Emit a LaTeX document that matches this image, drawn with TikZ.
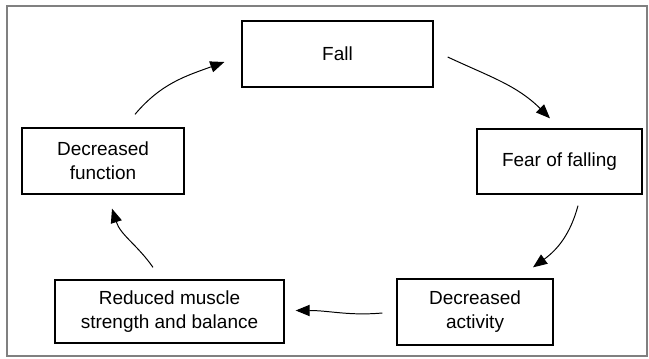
\documentclass[tikz,border=0pt]{standalone}
\usepackage{fontspec}
\setmainfont{Liberation Sans}
\usetikzlibrary{arrows.meta,calc}
\begin{document}
\begin{tikzpicture}[
        x=0.025cm,
        y=-0.025cm,
        box/.style={draw, line width=0.9pt, align=center, inner sep=0pt, font=\fontsize{13.5}{17}\selectfont},
        cyc/.style={line width=0.7pt, -{Triangle[length=10pt,width=8pt]}}
    ]
    \useasboundingbox (0,0) rectangle (649,359);
    \draw[gray, line width=0.8pt] (7,6) rectangle (647,356);

    \node[box, minimum width=4.775cm, minimum height=1.65cm] (fall) at (337.5,54) {Fall};
    \node[box, minimum width=4.125cm, minimum height=1.625cm] (fear) at (559.5,161.5) {Fear of falling};
    \node[box, minimum width=3.9cm, minimum height=1.65cm] (activity) at (475,312) {Decreased\\activity};
    \node[box, minimum width=5.725cm, minimum height=1.575cm] (muscle) at (169.5,311.5) {Reduced muscle\\strength and balance};
    \node[box, minimum width=4.05cm, minimum height=1.65cm] (decline) at (103,161) {Decreased\\function};

    \draw[cyc] ($(decline.north)+(32,-13)$) to[out=50,in=200] ($(fall.west)+(-17,8)$);
    \draw[cyc] ($(fall.east)+(14,3)$) to[out=-25,in=135] ($(fear.north)+(-9.5,-10)$);
    \draw[cyc] ($(fear.south)+(18.5,11)$) to[out=-105,in=36] ($(activity.north)+(58,-11)$);
    \draw[cyc] ($(activity.west)+(-14,1)$) to[out=185,in=0] ($(muscle.east)+(11,-1)$);
    \draw[cyc] ($(muscle.north)+(-16.5,-12)$) to[out=125,in=-72] ($(decline.south)+(9,14)$);
\end{tikzpicture}
\end{document}
